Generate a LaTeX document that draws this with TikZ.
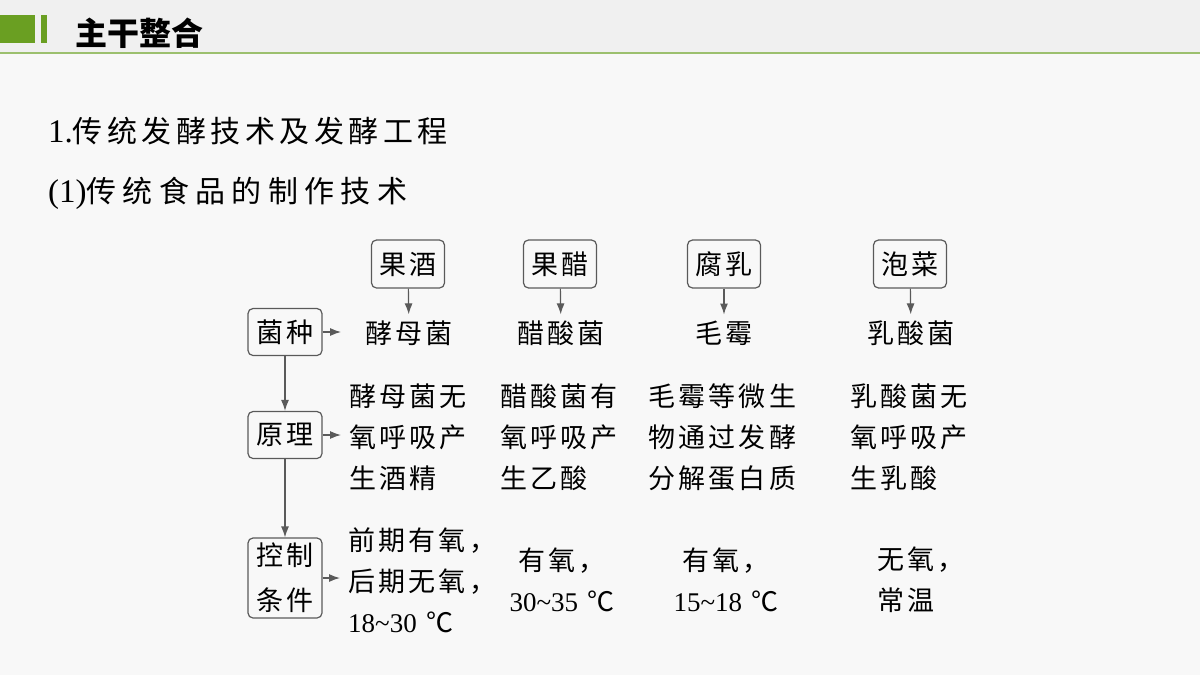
\documentclass[tikz,border=0pt]{standalone}
\usepackage{fontspec}
\setmainfont{Liberation Serif}
\newfontfamily\cjk{Noto Sans CJK SC}
\newfontfamily\cjkd[LetterSpace=12]{Noto Sans CJK SC}
\newfontfamily\cjkt[LetterSpace=15]{Noto Sans CJK SC}
\newfontfamily\cjks[LetterSpace=21]{Noto Sans CJK SC}
\usetikzlibrary{arrows.meta}
\definecolor{bandgray}{HTML}{F0F0F0}
\definecolor{pagegray}{HTML}{F8F8F8}
\definecolor{leaf}{HTML}{6A9F22}
\definecolor{leafline}{HTML}{9CC06E}
\definecolor{linegray}{HTML}{5A5A5A}

\begin{document}
\begin{tikzpicture}[x=1pt,y=-1pt,>={Latex[length=11pt,width=8pt]}]

% node style definition
\tikzstyle{txt} = [font=\cjkd\fontsize{27}{41}\selectfont,
	inner sep=0pt, align=left];
\tikzstyle{box} = [txt, draw=linegray, rounded corners=5pt,
	line width=1.2pt, align=center,
	minimum width=73pt, minimum height=48pt];
\tikzstyle{link} = [draw=linegray, line width=1.2pt, ->];

% page and header band
\useasboundingbox (0,0) rectangle (1200,675);
\fill[pagegray] (0,0) rectangle (1200,675);
\fill[bandgray] (0,0) rectangle (1200,52);
\draw[leafline, line width=1.5pt] (0,53) -- (1200,53);
\fill[leaf] (0,15) rectangle (35,43);
\fill[leaf] (41,15) rectangle (47,43);
\node[anchor=west, inner sep=0pt,
	font=\cjk\bfseries\fontsize{32}{32}\selectfont] (head) at (75,33) {主干整合};

% titles
\node[anchor=west, inner sep=0pt, font=\fontsize{33}{33}\selectfont]
	(t1) at (48,131) {1.{\cjkt\fontsize{30}{30}\selectfont 传统发酵技术及发酵工程}};
\node[anchor=west, inner sep=0pt, font=\fontsize{33}{33}\selectfont]
	(t2) at (48,193) {(1){\cjks\fontsize{30}{30}\selectfont 传统食品的制作技术}};

% food boxes and microbes
\node[box] (guojiu) at (408,264) {果酒};
\node[box] (guocu)  at (560,264) {果醋};
\node[box] (furu)   at (724,264) {腐乳};
\node[box] (paocai) at (910,264) {泡菜};

\node[txt] (jiaomu) at (409,333) {酵母菌};
\node[txt] (cusuan) at (561,333) {醋酸菌};
\node[txt] (maomei) at (724,333) {毛霉};
\node[txt] (rusuan) at (911,333) {乳酸菌};

\draw[link, shorten >=6pt] (guojiu) -- (jiaomu);
\draw[link, shorten >=6pt] (guocu) -- (cusuan);
\draw[link, shorten >=6pt] (furu) -- (maomei);
\draw[link, shorten >=6pt] (paocai) -- (rusuan);

% row heads
\node[box, minimum width=74pt, minimum height=47pt] (junzhong) at (285,332) {菌种};
\node[box, minimum width=74pt, minimum height=47pt] (yuanli) at (285,435) {原理};
\node[box, minimum width=74pt, minimum height=80pt] (kongzhi) at (285,578) {控制\\[4pt]条件};

\draw[link] (junzhong) -- (yuanli);
\draw[link] (yuanli) -- (kongzhi);

% principle
\node[txt, anchor=west] (yl1) at (349,437) {酵母菌无\\氧呼吸产\\生酒精};
\node[txt, anchor=west] (yl2) at (500,437) {醋酸菌有\\氧呼吸产\\生乙酸};
\node[txt, anchor=west] (yl3) at (648,437) {毛霉等微生\\物通过发酵\\分解蛋白质};
\node[txt, anchor=west] (yl4) at (850,437) {乳酸菌无\\氧呼吸产\\生乳酸};

% conditions
\node[txt, anchor=west] (kz1) at (348,580)
	{前期有氧，\\后期无氧，\\{\rmfamily 18\textasciitilde30}\ ℃};
\node[txt, align=center] (kz2) at (562,580) {有氧，\\{\rmfamily 30\textasciitilde35}\ ℃};
\node[txt, align=center] (kz3) at (726,580) {有氧，\\{\rmfamily 15\textasciitilde18}\ ℃};
\node[txt, anchor=west] (kz4) at (877,580) {无氧，\\常温};

\draw[link, shorten >=24pt] (junzhong.east) -- (junzhong.east -| jiaomu.west);
\draw[link, shorten >=8pt] (yuanli.east) -- (yuanli.east -| yl1.west);
\draw[link, shorten >=8pt] (kongzhi.east) -- (kongzhi.east -| kz1.west);

\end{tikzpicture}
\end{document}
